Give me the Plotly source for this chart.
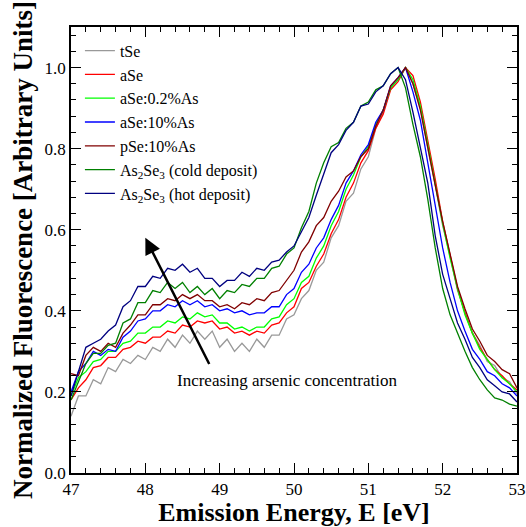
import plotly.graph_objects as go

energy = [round(47.0 + 0.1 * i, 1) for i in range(61)]

tSe = [0.14, 0.19, 0.19, 0.23, 0.22, 0.26, 0.25, 0.28, 0.27, 0.29,
       0.28, 0.31, 0.30, 0.33, 0.31, 0.34, 0.32, 0.35, 0.33, 0.35,
       0.31, 0.33, 0.30, 0.32, 0.30, 0.33, 0.31, 0.34, 0.34, 0.38,
       0.39, 0.43, 0.45, 0.50, 0.52, 0.58, 0.61, 0.67, 0.69, 0.75,
       0.78, 0.85, 0.89, 0.95, 0.97, 1.00, 0.96, 0.90, 0.80, 0.71,
       0.61, 0.535, 0.45, 0.40, 0.345, 0.315, 0.275, 0.265, 0.235, 0.225,
       0.195]

aSe = [0.18, 0.21, 0.23, 0.26, 0.265, 0.285, 0.285, 0.305, 0.31, 0.325,
       0.32, 0.335, 0.335, 0.35, 0.345, 0.365, 0.36, 0.375, 0.37, 0.375,
       0.355, 0.36, 0.345, 0.35, 0.34, 0.35, 0.345, 0.365, 0.37, 0.395,
       0.41, 0.455, 0.47, 0.51, 0.54, 0.59, 0.625, 0.68, 0.715, 0.765,
       0.795, 0.85, 0.885, 0.945, 0.965, 1.00, 0.98, 0.915, 0.82, 0.725,
       0.62, 0.535, 0.455, 0.395, 0.345, 0.31, 0.28, 0.255, 0.24, 0.22,
       0.205]

aSe_02As = [0.19, 0.235, 0.25, 0.275, 0.28, 0.30, 0.30, 0.32, 0.325, 0.345,
            0.345, 0.36, 0.36, 0.375, 0.37, 0.385, 0.38, 0.395, 0.385, 0.39,
            0.37, 0.37, 0.355, 0.36, 0.35, 0.36, 0.36, 0.38, 0.385, 0.415,
            0.43, 0.47, 0.485, 0.53, 0.56, 0.61, 0.645, 0.70, 0.735, 0.78,
            0.805, 0.86, 0.895, 0.95, 0.97, 1.00, 0.97, 0.905, 0.81, 0.715,
            0.615, 0.53, 0.455, 0.39, 0.345, 0.305, 0.28, 0.255, 0.235, 0.22,
            0.20]

aSe_10As = [0.20, 0.25, 0.27, 0.30, 0.29, 0.305, 0.30, 0.335, 0.35, 0.375,
            0.38, 0.40, 0.40, 0.415, 0.41, 0.425, 0.415, 0.425, 0.41, 0.415,
            0.40, 0.405, 0.395, 0.40, 0.39, 0.395, 0.395, 0.41, 0.41, 0.44,
            0.455, 0.495, 0.515, 0.555, 0.58, 0.625, 0.66, 0.715, 0.745, 0.785,
            0.81, 0.865, 0.895, 0.955, 0.975, 1.00, 0.94, 0.87, 0.765, 0.655,
            0.555, 0.47, 0.40, 0.35, 0.305, 0.28, 0.25, 0.24, 0.22, 0.21,
            0.19]

pSe_10As = [0.245, 0.24, 0.29, 0.31, 0.30, 0.32, 0.31, 0.345, 0.365, 0.39,
            0.39, 0.415, 0.415, 0.43, 0.425, 0.44, 0.43, 0.44, 0.425, 0.425,
            0.41, 0.415, 0.405, 0.42, 0.415, 0.43, 0.425, 0.445, 0.45, 0.475,
            0.50, 0.545, 0.57, 0.61, 0.63, 0.67, 0.695, 0.73, 0.745, 0.78,
            0.80, 0.855, 0.895, 0.955, 0.975, 1.00, 0.96, 0.895, 0.80, 0.71,
            0.62, 0.54, 0.46, 0.405, 0.355, 0.325, 0.29, 0.275, 0.255, 0.245,
            0.21]

As2Se3_cold = [0.18, 0.225, 0.27, 0.295, 0.295, 0.315, 0.32, 0.37, 0.38, 0.42,
               0.42, 0.45, 0.445, 0.47, 0.455, 0.47, 0.445, 0.46, 0.44, 0.455,
               0.43, 0.45, 0.445, 0.465, 0.46, 0.48, 0.48, 0.505, 0.51, 0.54,
               0.555, 0.605, 0.645, 0.715, 0.765, 0.805, 0.815, 0.85, 0.865, 0.905,
               0.915, 0.945, 0.955, 0.985, 1.00, 0.95, 0.86, 0.78, 0.675, 0.555,
               0.455, 0.39, 0.345, 0.30, 0.26, 0.23, 0.205, 0.185, 0.18, 0.17,
               0.165]

As2Se3_hot = [0.19, 0.25, 0.31, 0.32, 0.33, 0.35, 0.365, 0.41, 0.425, 0.46,
              0.46, 0.485, 0.48, 0.505, 0.50, 0.515, 0.495, 0.505, 0.48, 0.48,
              0.46, 0.475, 0.475, 0.495, 0.485, 0.505, 0.50, 0.52, 0.525, 0.545,
              0.56, 0.595, 0.63, 0.685, 0.74, 0.79, 0.81, 0.845, 0.865, 0.905,
              0.91, 0.94, 0.955, 0.985, 1.00, 0.97, 0.89, 0.805, 0.715, 0.585,
              0.49, 0.43, 0.37, 0.33, 0.285, 0.26, 0.23, 0.215, 0.20, 0.195,
              0.175]

series_names = ["tSe", "aSe", "aSe:0.2%As", "aSe:10%As", "pSe:10%As",
                "As<sub>2</sub>Se<sub>3</sub> (cold deposit)",
                "As<sub>2</sub>Se<sub>3</sub> (hot deposit)"]
series_values = [tSe, aSe, aSe_02As, aSe_10As, pSe_10As, As2Se3_cold, As2Se3_hot]
series_colors = ["#999999", "#ff0000", "#00ff00", "#0000ff", "#800000", "#008000", "#000080"]

serif = "Liberation Serif, Times New Roman, serif"

fig = go.Figure()
for name, vals, col in zip(series_names, series_values, series_colors):
    fig.add_trace(go.Scatter(x=energy, y=vals, mode="lines", name=name,
                             line=dict(color=col, width=1.3)))

axis_common = dict(
    showline=True, linecolor="black", linewidth=1.5, mirror="allticks",
    ticks="inside", ticklen=10, tickwidth=1.2, tickcolor="black",
    showgrid=False, zeroline=False, automargin=False,
    tickfont=dict(family=serif, size=17, color="black"),
)

fig.update_xaxes(range=[47, 53], dtick=1, tick0=47,
                 minor=dict(ticks="inside", ticklen=5, dtick=0.2, tickcolor="black", tickwidth=1),
                 title=dict(text="<b>Emission Energy, E [eV]</b>", standoff=0,
                            font=dict(family=serif, size=26, color="black")),
                 **axis_common)
fig.update_yaxes(range=[0, 1.1], dtick=0.2, tick0=0, tickformat=".1f",
                 minor=dict(ticks="inside", ticklen=5, dtick=0.04, tickcolor="black", tickwidth=1),
                 title=dict(text="<b>Normalized Fluorescence [Arbitrary Units]</b>", standoff=4,
                            font=dict(family=serif, size=27, color="black")),
                 **axis_common)

fig.add_annotation(x=48.0, y=0.58, ax=48.87, ay=0.265, xref="x", yref="y",
                   axref="x", ayref="y", showarrow=True, arrowhead=2,
                   arrowsize=1.3, arrowwidth=2.5, arrowcolor="black", text="")
fig.add_annotation(x=49.9, y=0.227, xref="x", yref="y", showarrow=False,
                   text="Increasing arsenic concentration",
                   font=dict(family=serif, size=17, color="black"))

fig.update_layout(
    width=526, height=527,
    margin=dict(l=71, r=9, t=27, b=54),
    plot_bgcolor="white", paper_bgcolor="white",
    legend=dict(x=0.02, y=0.985, xanchor="left", yanchor="top",
                bgcolor="rgba(0,0,0,0)", borderwidth=0,
                font=dict(family=serif, size=16, color="black"),
                itemwidth=30, tracegroupgap=0),
    showlegend=True,
)

fig.write_html("out.html")
